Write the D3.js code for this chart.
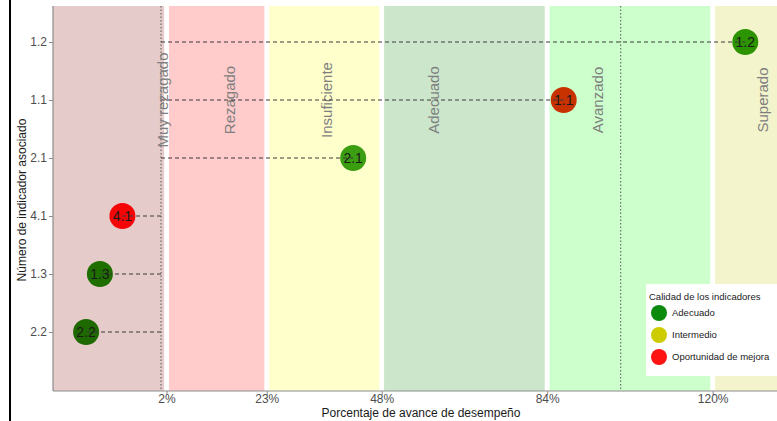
<!DOCTYPE html>
<html>
<head>
<meta charset="utf-8">
<script src="https://cdn.jsdelivr.net/npm/d3@7"></script>
<style>
  body { margin: 0; background: #fff; }
  text { font-family: "Liberation Sans", Arial, sans-serif; }
</style>
</head>
<body>
<div id="chart"></div>
<script>
// indicators, top to bottom
const indicators = ["1.2", "1.1", "2.1", "4.1", "1.3", "2.2"]
const avance = [127.1, 87.6, 41.8, -8.4, -13.3, -16.3]
const calidad = ["Adecuado", "Oportunidad de mejora", "Adecuado", "Oportunidad de mejora", "Adecuado", "Adecuado"]

// performance bands
const bandNames = ["Muy rezagado", "Rezagado", "Insuficiente", "Adecuado", "Avanzado", "Superado"]
const bandStart = [-23.5, 1.2, 23, 48, 84, 120]
const bandEnd = [1.2, 23, 48, 84, 120, 134]
const bandLabelAt = [0.4, 15.0, 36.1, 59.4, 95.1, 131.0]

const tickValues = [1.2, 23, 48, 84, 120]
const tickLabels = ["2%", "23%", "48%", "84%", "120%"]
const refLines = [0, 100]

const legendNames = ["Adecuado", "Intermedio", "Oportunidad de mejora"]

const width = 777
const height = 421
const plotLeft = 53
const plotTop = 6
const plotBottom = 391

const bandColors = ["#e6cbcb", "#ffcbcb", "#ffffcc", "#cce6cc", "#ccffcc", "#f4f4cc"]
const legendColors = {
  "Adecuado": "#0c8a0c",
  "Intermedio": "#cccc00",
  "Oportunidad de mejora": "#ff1414"
}
// points look darker / mixed where they overlap in the original
const pointColors = {
  "1.2": "#2b9400",
  "1.1": "#c83200",
  "2.1": "#3b9e11",
  "4.1": "#f40606",
  "1.3": "#1e6e00",
  "2.2": "#1f6a00"
}

const xScale = d3.scaleLinear().domain([-23.5, 134]).range([plotLeft, width])
const yScale = d3.scalePoint().domain(indicators).range([42, 332])

const svg = d3.select('#chart').append('svg').attr('width', width).attr('height', height)

const bands = bandNames.map(function(name, i) {
  return { name: name, start: bandStart[i], end: bandEnd[i], labelAt: bandLabelAt[i], color: bandColors[i] }
})

svg.selectAll('rect.band').data(bands)
  .enter()
  .append('rect')
  .attr('class', 'band')
  .attr('x', function(d, i) { return xScale(d.start) + (i > 0 ? 2.4 : 0) })
  .attr('width', function(d, i) {
    const x0 = xScale(d.start) + (i > 0 ? 2.4 : 0)
    const x1 = xScale(d.end) - (i < bands.length - 1 ? 2.4 : 0)
    return x1 - x0
  })
  .attr('y', plotTop)
  .attr('height', plotBottom - plotTop)
  .attr('fill', function(d) { return d.color })

// dotted reference lines
svg.selectAll('line.ref').data(refLines)
  .enter()
  .append('line')
  .attr('class', 'ref')
  .attr('x1', function(d) { return xScale(d) })
  .attr('x2', function(d) { return xScale(d) })
  .attr('y1', plotTop)
  .attr('y2', plotBottom)
  .attr('stroke', '#555')
  .attr('stroke-width', 1)
  .attr('stroke-dasharray', '1.5,2')

// band labels
svg.selectAll('text.band-label').data(bands)
  .enter()
  .append('text')
  .attr('class', 'band-label')
  .attr('transform', function(d) {
    return 'translate(' + xScale(d.labelAt) + ',' + yScale('1.1') + ') rotate(-90)'
  })
  .attr('text-anchor', 'middle')
  .attr('dy', '0.35em')
  .attr('font-size', '15px')
  .attr('fill', '#7f7f7f')
  .text(function(d) { return d.name })

const points = indicators.map(function(id, i) {
  return { id: id, value: avance[i], calidad: calidad[i] }
})

svg.selectAll('circle.point').data(points)
  .enter()
  .append('circle')
  .attr('class', 'point')
  .attr('cx', function(d) { return xScale(d.value) })
  .attr('cy', function(d) { return yScale(d.id) })
  .attr('r', 13)
  .attr('fill', function(d) { return pointColors[d.id] })

svg.selectAll('text.point-label').data(points)
  .enter()
  .append('text')
  .attr('class', 'point-label')
  .attr('x', function(d) { return xScale(d.value) })
  .attr('y', function(d) { return yScale(d.id) })
  .attr('dy', '0.36em')
  .attr('text-anchor', 'middle')
  .attr('font-size', '14px')
  .attr('fill', '#1a1a1a')
  .text(function(d) { return d.id })

// dashed segments from the zero line to each point
svg.selectAll('line.seg').data(points)
  .enter()
  .append('line')
  .attr('class', 'seg')
  .attr('x1', xScale(0))
  .attr('x2', function(d) { return xScale(d.value) })
  .attr('y1', function(d) { return yScale(d.id) })
  .attr('y2', function(d) { return yScale(d.id) })
  .attr('stroke', '#3a3a3a')
  .attr('stroke-width', 1.2)
  .attr('stroke-dasharray', '4,3')

// axes
const xAxis = d3.axisBottom(xScale).tickValues(tickValues).tickSize(4).tickSizeOuter(0)
  .tickFormat(function(d, i) { return tickLabels[i] })
const yAxis = d3.axisLeft(yScale).tickSize(4).tickSizeOuter(0)

const gx = svg.append('g').attr('class', 'axis x-axis').attr('transform', 'translate(0,' + plotBottom + ')').call(xAxis)
const gy = svg.append('g').attr('class', 'axis y-axis').attr('transform', 'translate(' + plotLeft + ',0)').call(yAxis)

gx.select('.domain').remove()
gy.select('.domain').remove()
svg.append('line').attr('x1', plotLeft).attr('x2', width).attr('y1', plotBottom).attr('y2', plotBottom)
  .attr('stroke', '#8c8c8c').attr('stroke-width', 1.2)
svg.append('line').attr('x1', plotLeft).attr('x2', plotLeft).attr('y1', plotTop).attr('y2', plotBottom)
  .attr('stroke', '#8c8c8c').attr('stroke-width', 1.2)

svg.selectAll('.axis text')
  .attr('font-family', '"Liberation Sans", Arial, sans-serif')
  .attr('font-size', '12px')
  .attr('fill', '#4d4d4d')
svg.selectAll('.axis .tick line').attr('stroke', '#8c8c8c')
gx.selectAll('text').attr('y', 12).attr('dy', 0)
gy.selectAll('text').attr('x', -6)

svg.append('text')
  .attr('x', 421)
  .attr('y', 417)
  .attr('text-anchor', 'middle')
  .attr('font-size', '12px')
  .attr('fill', '#1a1a1a')
  .text('Porcentaje de avance de desempeño')

svg.append('text')
  .attr('transform', 'translate(26,' + 200 + ') rotate(-90)')
  .attr('text-anchor', 'middle')
  .attr('font-size', '12px')
  .attr('fill', '#1a1a1a')
  .text('Número de indicador asociado')

// left border line
svg.append('line').attr('x1', 10).attr('x2', 10).attr('y1', 0).attr('y2', height)
  .attr('stroke', '#000').attr('stroke-width', 2)

// legend
const legend = svg.append('g').attr('transform', 'translate(646,284)')
legend.append('rect').attr('width', 131).attr('height', 92).attr('fill', '#fff')
legend.append('text')
  .attr('x', 3)
  .attr('y', 16)
  .attr('font-size', '9.5px')
  .attr('fill', '#1a1a1a')
  .text('Calidad de los indicadores')

legend.selectAll('circle').data(legendNames)
  .enter()
  .append('circle')
  .attr('cx', 13)
  .attr('cy', function(d, i) { return 29 + i * 22 })
  .attr('r', 8)
  .attr('fill', function(d) { return legendColors[d] })

legend.selectAll('text.item').data(legendNames)
  .enter()
  .append('text')
  .attr('class', 'item')
  .attr('x', 26)
  .attr('y', function(d, i) { return 29 + i * 22 })
  .attr('dy', '0.35em')
  .attr('font-size', '9.5px')
  .attr('fill', '#1a1a1a')
  .text(function(d) { return d })
</script>
</body>
</html>
